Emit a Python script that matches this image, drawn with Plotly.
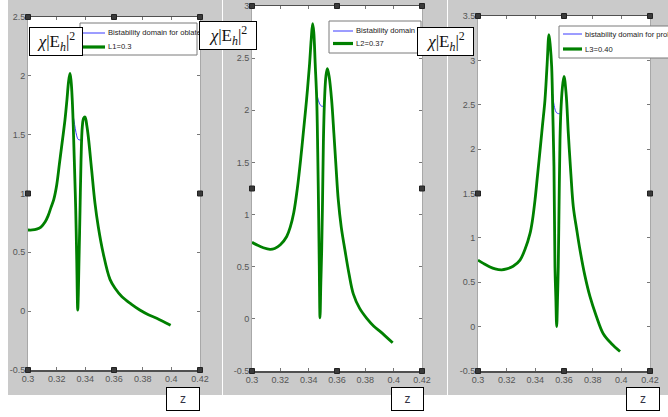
import plotly.graph_objects as go

W, H = 668, 417

# ---------------- data ----------------
z_green_1 = [0.300, 0.303, 0.306, 0.309, 0.312, 0.314, 0.316, 0.318, 0.320, 0.322, 0.324,
             0.3258, 0.3272, 0.3283, 0.3293, 0.3301, 0.3309, 0.3316, 0.3323, 0.3333, 0.3340,
             0.3347, 0.3356, 0.3363, 0.3370, 0.3379, 0.3388, 0.3398, 0.3410, 0.3421, 0.3444,
             0.3467, 0.3490, 0.3525, 0.3572, 0.3610, 0.3654, 0.3720, 0.3780, 0.3840, 0.3898, 0.3995]
v_green_1 = [0.690, 0.690, 0.697, 0.715, 0.76, 0.81, 0.88, 0.95, 1.07, 1.26, 1.45,
             1.625, 1.80, 1.95, 2.02, 1.95, 1.79, 1.57, 1.285, 0.86, 0.44,
             0.01, 0.44, 0.86, 1.285, 1.57, 1.64, 1.65, 1.58, 1.48, 1.20,
             0.92, 0.72, 0.49, 0.27, 0.19, 0.124, 0.06, 0.01, -0.03, -0.06, -0.12]
z_blue_1 = [0.3318, 0.3330, 0.3340, 0.3350, 0.3362, 0.3376]
v_blue_1 = [1.64, 1.55, 1.49, 1.46, 1.455, 1.455]

z_green_2 = [0.300, 0.304, 0.308, 0.3127, 0.316, 0.320, 0.3245, 0.327, 0.3295, 0.3320, 0.3345,
             0.3362, 0.3385, 0.3405, 0.3418, 0.3428, 0.3436, 0.3446, 0.3457, 0.3464, 0.3470,
             0.3475, 0.3480, 0.3486, 0.3492, 0.3498, 0.3504, 0.3512, 0.3522, 0.3532, 0.3545,
             0.3562, 0.3578, 0.3593, 0.3609, 0.3630, 0.3656, 0.3685, 0.3715, 0.3760, 0.3810,
             0.3860, 0.3904, 0.3993]
v_green_2 = [0.734, 0.705, 0.682, 0.667, 0.675, 0.71, 0.79, 0.88, 1.02, 1.25, 1.55,
             1.78, 2.10, 2.42, 2.68, 2.83, 2.75, 2.45, 2.10, 1.60, 1.04,
             0.50, 0.01, 0.35, 0.66, 1.14, 1.70, 2.10, 2.33, 2.40, 2.32,
             2.10, 1.78, 1.46, 1.14, 0.88, 0.66, 0.43, 0.24, 0.10, 0.005,
             -0.07, -0.12, -0.23]
z_blue_2 = [0.3450, 0.3462, 0.3475, 0.3490, 0.3510]
v_blue_2 = [2.26, 2.13, 2.07, 2.04, 2.04]

z_green_3 = [0.300, 0.304, 0.308, 0.312, 0.3165, 0.320, 0.3245, 0.3293, 0.3330, 0.3363, 0.3380,
             0.3398, 0.3415, 0.3433, 0.3450, 0.3467, 0.3482, 0.3495, 0.3505, 0.3514, 0.3522,
             0.3530, 0.3537, 0.3543, 0.3549, 0.3555, 0.3560, 0.3566, 0.3572, 0.3578, 0.3588,
             0.3600, 0.3615, 0.3630, 0.3648, 0.3665, 0.3690, 0.3712, 0.3745, 0.3781, 0.3825,
             0.3874, 0.3930, 0.3991]
v_green_3 = [0.75, 0.71, 0.675, 0.65, 0.64, 0.65, 0.68, 0.75, 0.88, 1.05, 1.20,
             1.43, 1.70, 1.99, 2.27, 2.55, 2.95, 3.29, 3.15, 2.93, 2.40,
             1.80, 0.675, 0.33, 0.0, 0.33, 0.675, 1.43, 2.10, 2.42, 2.68,
             2.82, 2.62, 2.18, 1.72, 1.35, 1.08, 0.86, 0.58, 0.34, 0.12,
             -0.08, -0.19, -0.28]
z_blue_3 = [0.3521, 0.3534, 0.3548, 0.3562, 0.3577]
v_blue_3 = [2.62, 2.47, 2.41, 2.40, 2.40]

blue_names = ["Bistability domain for oblate", "Bistability domain for sphere",
              "bistability domain for prolate"]
green_names = ["L1=0.3", "L2=0.37", "L3=0.40"]

x_tick_vals = [0.3, 0.32, 0.34, 0.36, 0.38, 0.4, 0.42]
x_tick_text = ["0.3", "0.32", "0.34", "0.36", "0.38", "0.4", "0.42"]
y_tick_vals_1 = [-0.5, 0, 0.5, 1, 1.5, 2, 2.5]
y_tick_text_1 = ["-0.5", "0", "0.5", "1", "1.5", "2", "2.5"]
y_tick_vals_2 = [-0.5, 0, 0.5, 1, 1.5, 2, 2.5, 3]
y_tick_text_2 = ["-0.5", "0", "0.5", "1", "1.5", "2", "2.5", "3"]
y_tick_vals_3 = [-0.5, 0, 0.5, 1, 1.5, 2, 2.5, 3, 3.5]
y_tick_text_3 = ["-0.5", "0", "0.5", "1", "1.5", "2", "2.5", "3", "3.5"]
y_ranges = [[-0.5, 2.5], [-0.5, 3], [-0.5, 3.5]]
ylabel_text = "<i>χ</i>|E<sub><i>h</i></sub>|<sup>2</sup>"
xlabel_text = "z"

# ---------------- layout helpers (pixels -> paper) ----------------
def px(x):
    return x / W

def py(y):
    return 1 - y / H

# axes boxes in pixels: (left, right, top, bottom)
boxes = [(28, 200, 17, 370), (252, 422, 6, 371), (478, 650, 16, 371)]
gray_panels = [(8, 222), (223, 447), (448, 668)]
ylabel_boxes = [(29, 83, 27, 56), (199, 257, 21, 50), (417, 474, 27, 56)]
xlabel_boxes = [(166, 200, 387, 411), (391, 424, 387, 411), (626, 660, 387, 411)]
# legend boxes: (left, right, top, bottom), sample line x-span, row y positions
legend_boxes = [(80, 197, 23, 55), (329, 421, 21, 53), (559, 690, 26, 58)]
legend_line_x = [(83, 105), (333, 353), (563, 582)]
legend_rows = [(33, 47), (31, 43.5), (34, 49)]

GREEN = "#008000"
BLUE = "#3b3bff"
TICKFONT = dict(family="Liberation Sans Narrow, Liberation Sans, Arial", size=9, color="#555555")
LEGFONT = dict(family="Liberation Sans Narrow, Liberation Sans, Arial", size=7.6, color="#222222")

fig = go.Figure()

greens = [(z_green_1, v_green_1), (z_green_2, v_green_2), (z_green_3, v_green_3)]
blues = [(z_blue_1, v_blue_1), (z_blue_2, v_blue_2), (z_blue_3, v_blue_3)]
yticks = [(y_tick_vals_1, y_tick_text_1), (y_tick_vals_2, y_tick_text_2), (y_tick_vals_3, y_tick_text_3)]

shapes = []
legend_annotations = []
label_annotations = []

for i in range(3):
    sfx = "" if i == 0 else str(i + 1)
    zb, vb = blues[i]
    zg, vg = greens[i]
    fig.add_trace(go.Scatter(x=zb, y=vb, mode="lines", name=blue_names[i],
                             line=dict(color=BLUE, width=1, shape="spline", smoothing=1.0),
                             xaxis="x" + sfx, yaxis="y" + sfx, showlegend=False))
    fig.add_trace(go.Scatter(x=zg, y=vg, mode="lines", name=green_names[i],
                             line=dict(color=GREEN, width=2.8, shape="spline", smoothing=1.0),
                             xaxis="x" + sfx, yaxis="y" + sfx, showlegend=False))

    l, r, t, b = boxes[i]
    fig.layout["xaxis" + sfx] = dict(
        domain=[px(l), px(r)], range=[0.3, 0.42], anchor="y" + sfx,
        tickvals=x_tick_vals, ticktext=x_tick_text, ticks="inside", ticklen=3,
        tickcolor="#777777", showline=True, linecolor="#505050", linewidth=1.5,
        mirror="ticks", showgrid=False, zeroline=False, tickfont=TICKFONT)
    fig.layout["yaxis" + sfx] = dict(
        domain=[py(b), py(t)], range=y_ranges[i], anchor="x" + sfx,
        tickvals=yticks[i][0], ticktext=yticks[i][1], ticks="inside", ticklen=3,
        tickcolor="#777777", showline=True, linecolor="#a8a8a8", linewidth=1,
        mirror="ticks", showgrid=False, zeroline=False, tickfont=TICKFONT)

    # gray panel + white plot area
    g0, g1 = gray_panels[i]
    shapes.append(dict(type="rect", xref="paper", yref="paper", x0=px(g0), x1=px(g1),
                       y0=py(395), y1=1, fillcolor="#cacaca", line_width=0, layer="below"))
    shapes.append(dict(type="rect", xref="paper", yref="paper", x0=px(l), x1=px(r),
                       y0=py(b), y1=py(t), fillcolor="white", line_width=0, layer="below"))

    # selection handles
    xm = (l + r) / 2
    ym = (t + b) / 2
    for hx, hy in [(l, t), (xm, t), (r, t), (l, b), (xm, b), (r, b), (l, ym), (r, ym)]:
        shapes.append(dict(type="rect", xref="paper", yref="paper",
                           x0=px(hx - 2.5), x1=px(hx + 2.5), y0=py(hy + 2.5), y1=py(hy - 2.5),
                           fillcolor="#3a3a3a", line=dict(color="#222222", width=1), layer="above"))

    # legend (box, sample lines, texts)
    a0, a1, b0, b1 = legend_boxes[i]
    shapes.append(dict(type="rect", xref="paper", yref="paper", x0=px(a0), x1=px(a1),
                       y0=py(b1), y1=py(b0), fillcolor="white",
                       line=dict(color="#7a7a7a", width=1), layer="above"))
    s0, s1 = legend_line_x[i]
    r0, r1 = legend_rows[i]
    shapes.append(dict(type="line", xref="paper", yref="paper", x0=px(s0), x1=px(s1),
                       y0=py(r0), y1=py(r0), line=dict(color=BLUE, width=1), layer="above"))
    shapes.append(dict(type="line", xref="paper", yref="paper", x0=px(s0), x1=px(s1),
                       y0=py(r1), y1=py(r1), line=dict(color=GREEN, width=3.2), layer="above"))
    for txt, ry in [(blue_names[i], r0), (green_names[i], r1)]:
        legend_annotations.append(dict(text=txt, xref="paper", yref="paper",
                                       x=px(s1 + 1), y=py(ry), xanchor="left", yanchor="middle",
                                       showarrow=False, font=LEGFONT))

    # y-label box
    a0, a1, b0, b1 = ylabel_boxes[i]
    label_annotations.append(dict(text=ylabel_text, xref="paper", yref="paper",
                                  x=px((a0 + a1) / 2), y=py((b0 + b1) / 2), xanchor="center", yanchor="middle",
                                  showarrow=False, width=a1 - a0 - 2, height=b1 - b0 - 2, borderpad=0,
                                  bgcolor="white", bordercolor="black", borderwidth=1,
                                  font=dict(family="Liberation Serif, DejaVu Serif, serif", size=17, color="#111111")))
    # x-label box
    a0, a1, b0, b1 = xlabel_boxes[i]
    label_annotations.append(dict(text=xlabel_text, xref="paper", yref="paper",
                                  x=px((a0 + a1) / 2), y=py((b0 + b1) / 2), xanchor="center", yanchor="middle",
                                  showarrow=False, width=a1 - a0 - 2, height=b1 - b0 - 2, borderpad=0,
                                  bgcolor="white", bordercolor="black", borderwidth=1,
                                  font=dict(family="Liberation Sans, Arial", size=12, color="#333344")))

fig.update_layout(
    width=W, height=H, margin=dict(l=0, r=0, t=0, b=0, autoexpand=False),
    paper_bgcolor="white", plot_bgcolor="rgba(0,0,0,0)",
    shapes=shapes, annotations=legend_annotations + label_annotations, showlegend=False,
)

fig.write_html("out.html", config={"displayModeBar": False, "staticPlot": True},
               post_script="document.body.style.margin='0';")
